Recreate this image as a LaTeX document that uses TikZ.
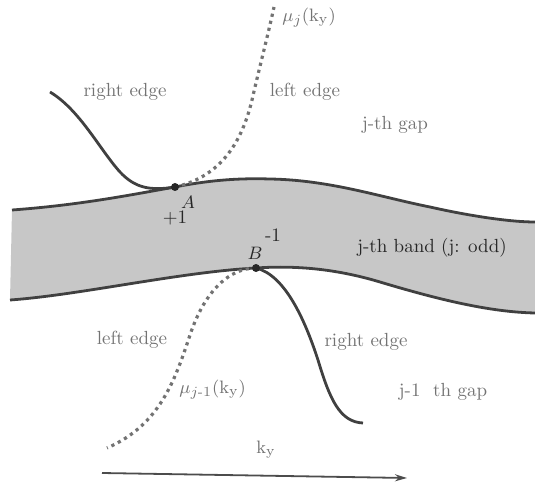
\documentclass[tikz,border=0pt]{standalone}
\usepackage{amsmath}
\usepackage{tikz}
\usetikzlibrary{arrows.meta}
\begin{document}
\begin{tikzpicture}[x=0.5pt,y=-0.5pt,
  lbl/.style={text=black!55,font=\fontsize{9.5}{11}\selectfont,inner sep=1pt},
  pt/.style={text=black!85,font=\fontsize{9.5}{11}\selectfont,inner sep=1pt},
  edge/.style={draw=black!75,line width=1.4pt},
  spec/.style={draw=black!55,line width=1.6pt,dotted},
  arr/.style={-{Stealth[length=6pt,width=3.5pt]},draw=black!70,line width=0.9pt}]
\useasboundingbox (0,0) rectangle (535,486);
% band
\coordinate (A) at (175,187);
\coordinate (B) at (256,268);
\fill[black!22] (12,210) .. controls (80,205) and (130,195) .. (A)
  .. controls (210,180) and (240,178) .. (270,179)
  .. controls (330,180) and (380,197) .. (430,207)
  .. controls (470,216) and (510,222) .. (535,222)
  -- (535,313) .. controls (490,312) and (440,300) .. (380,282)
  .. controls (340,270) and (300,265) .. (B)
  .. controls (180,272) and (80,295) .. (10,300) -- cycle;
\draw[edge] (12,210) .. controls (80,205) and (130,195) .. (A)
  .. controls (210,180) and (240,178) .. (270,179)
  .. controls (330,180) and (380,197) .. (430,207)
  .. controls (470,216) and (510,222) .. (535,222);
\draw[edge] (10,300) .. controls (80,295) and (180,272) .. (B)
  .. controls (300,265) and (340,270) .. (380,282)
  .. controls (440,300) and (490,312) .. (535,313);
% edge states
\coordinate (re1) at (50,92);
\coordinate (mu1) at (274,7);
\coordinate (mu2) at (107,448);
\coordinate (re2) at (363,423);
\draw[edge] (re1) .. controls (80,110) and (100,150) .. (120,172)
  .. controls (135,188) and (150,191) .. (A);
\draw[spec] (A) .. controls (215,178) and (240,150) .. (252,100)
  .. controls (260,65) and (268,35) .. (mu1);
\draw[spec] (B) .. controls (230,268) and (205,290) .. (190,335)
  .. controls (175,380) and (160,425) .. (mu2);
\draw[edge] (B) .. controls (285,275) and (305,320) .. (318,360)
  .. controls (330,400) and (340,422) .. (re2);
\fill[black!85] (A) circle (4);
\fill[black!85] (B) circle (4);
% labels
\node[lbl,anchor=west] (mujlbl) at (280,18) {$\mu_j(\mathrm{k}_\mathrm{y})$};
\node[lbl] (re1lbl) at (125,92) {right edge};
\node[lbl] (le1lbl) at (305,92) {left edge};
\node[lbl] (gapj) at (395,125) {j-th gap};
\node[pt] (Alab) at (188,202) {$A$};
\node[pt] (plus) at (175,218) {+1};
\node[pt] (minus) at (273,235) {-1};
\node[pt] (Blab) at (255,253) {$B$};
\node[pt] (band) at (432,248) {j-th band (j: odd)};
\node[lbl] (le2lbl) at (132,340) {left edge};
\node[lbl] (re2lbl) at (366,342) {right edge};
\node[lbl,anchor=west] (mujm) at (177,390) {$\mu_{j\text{-}1}(\mathrm{k}_\mathrm{y})$};
\node[lbl] (gapjm) at (443,392) {j-1\ \ th gap};
\node[lbl] (kylbl) at (266,450) {$\mathrm{k}_\mathrm{y}$};
\coordinate (k0) at (102,473);
\coordinate (k1) at (407,478);
\draw[arr] (k0) -- (k1);
\end{tikzpicture}
\end{document}
